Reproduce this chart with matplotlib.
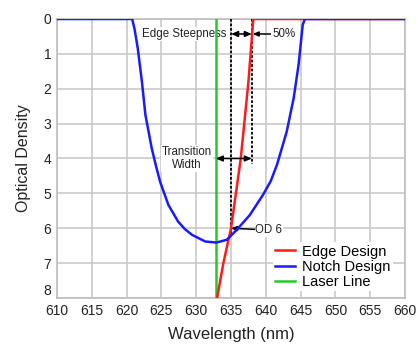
import matplotlib
matplotlib.use("Agg")
import matplotlib.pyplot as plt

plt.rcParams['font.family'] = ['Liberation Sans', 'DejaVu Sans']

# notch filter (blue)
notch_wl = [610, 620.8, 621.15, 621.6, 622.2, 622.7, 623.6, 624.2, 624.8, 626.0, 627.4, 628.4, 629.4,
            631.3, 632.9, 634.4, 635.8, 637.7, 639.6, 640.7, 641.6, 643.0, 644.0, 644.7, 645.3, 645.6, 660]
notch_od = [0, 0, 0.3, 0.84, 1.80, 2.75, 3.70, 4.2, 4.66, 5.33, 5.81, 6.03, 6.19,
            6.38, 6.41, 6.33, 6.05, 5.62, 5.04, 4.65, 4.18, 3.23, 2.27, 1.32, 0.17, 0, 0]

# edge filter (red)
edge_wl = [633.0, 633.9, 635.0, 636.4, 637.5, 638.2, 660]
edge_od = [8.0, 7.0, 6.0, 4.0, 1.8, 0.0, 0.0]

# laser line (green)
laser_wl = 632.8

xticks = list(range(610, 661, 5))
yticks = list(range(0, 9))

fig = plt.figure(figsize=(4.18, 3.44), dpi=100)
ax = fig.add_axes([0.1364, 0.1337, 0.8326, 0.8111])

grid_c = '#c9c9c9'
ax.set_axisbelow(True)
ax.grid(True, color=grid_c, lw=1.2)
for s in ax.spines.values():
    s.set_color('#bdbdbd')
    s.set_linewidth(1.2)

ax.plot([laser_wl, laser_wl], [0, 8], color='#22cc22', lw=1.8, zorder=4, label='Laser Line')
ax.plot(edge_wl, edge_od, color='#ff1a1a', lw=1.8, zorder=5, label='Edge Design')
ax.plot(notch_wl, notch_od, color='#1a1aff', lw=1.8, zorder=5, label='Notch Design',
        solid_joinstyle='round')

# dashed guide lines
ax.plot([635.0, 635.0], [0, 6.2], color='black', lw=1.3, ls=(0, (1.5, 1.0)), zorder=4)
ax.plot([638.0, 638.0], [0, 4.15], color='black', lw=1.3, ls=(0, (1.5, 1.0)), zorder=4)

box = dict(facecolor='white', edgecolor='none', pad=0.6)
afs = 8.3
head = dict(color='black', lw=1.1, shrinkA=0, shrinkB=0)
hs = '<|-|>,head_length=0.4,head_width=0.17'
hs1 = '-|>,head_length=0.4,head_width=0.17'

ax.text(634.4, 0.43, 'Edge Steepness', ha='right', va='center', fontsize=afs, color='#222222', bbox=box, zorder=3)
ax.annotate('', xy=(635.0, 0.43), xytext=(638.0, 0.43), arrowprops=dict(arrowstyle=hs, **head), zorder=6)
ax.annotate('50%', xy=(638.1, 0.43), xytext=(640.9, 0.43), ha='left', va='center', fontsize=afs,
            color='#222222', bbox=box, zorder=3, arrowprops=dict(arrowstyle=hs1, **head))

ax.text(628.7, 4.0, 'Transition\nWidth', ha='center', va='center', fontsize=afs, color='#222222',
        linespacing=1.15, bbox=box, zorder=3)
ax.annotate('', xy=(632.8, 4.0), xytext=(638.0, 4.0), arrowprops=dict(arrowstyle=hs, **head), zorder=6)

ax.annotate('OD 6', xy=(635.0, 6.0), xytext=(638.5, 6.05), ha='left', va='center', fontsize=afs,
            color='#222222', bbox=box, zorder=3, arrowprops=dict(arrowstyle=hs1, **head))

ax.set_xlim(610, 660)
ax.set_ylim(8, 0)
ax.set_xticks(xticks)
ax.set_yticks(yticks)
ax.tick_params(length=0, labelsize=10, pad=4, colors='#222222')
ax.get_yticklabels()[-1].set_va('bottom')

ax.set_xlabel('Wavelength (nm)', fontsize=12, color='#222222', labelpad=7)
ax.set_ylabel('Optical Density', fontsize=11.5, color='#222222', labelpad=9)

h, l = ax.get_legend_handles_labels()
order = [1, 2, 0]
leg = ax.legend([h[i] for i in order], [l[i] for i in order], loc='lower left',
                bbox_to_anchor=(0.62, 0.025), fontsize=10.5, frameon=True, fancybox=False,
                framealpha=1, edgecolor='none', facecolor='white', borderpad=0.15,
                borderaxespad=0, labelspacing=0.08, handlelength=1.4, handletextpad=0.45)
leg.set_zorder(7)

fig.savefig('out.png', dpi=100)
